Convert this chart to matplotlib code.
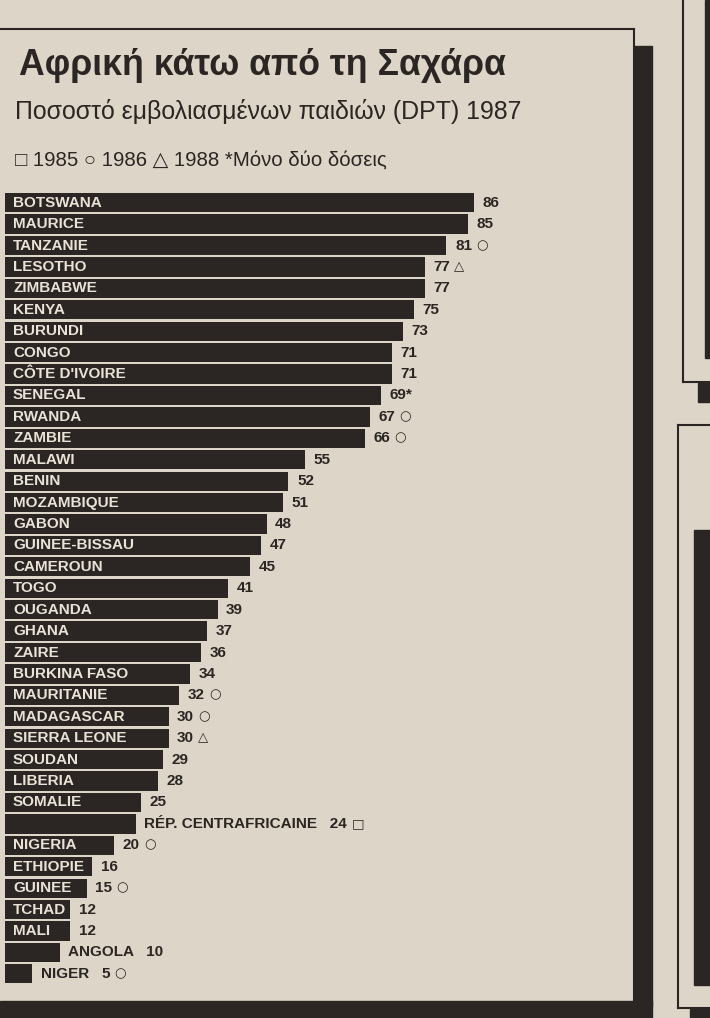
import matplotlib
matplotlib.use("Agg")
import matplotlib.pyplot as plt
from matplotlib import font_manager
from matplotlib.patches import Rectangle

# Data (DPT vaccination, % of children, 1987)
countries = ["BOTSWANA", "MAURICE", "TANZANIE", "LESOTHO", "ZIMBABWE", "KENYA",
             "BURUNDI", "CONGO", "CÔTE D'IVOIRE", "SENEGAL", "RWANDA", "ZAMBIE",
             "MALAWI", "BENIN", "MOZAMBIQUE", "GABON", "GUINEE-BISSAU", "CAMEROUN",
             "TOGO", "OUGANDA", "GHANA", "ZAIRE", "BURKINA FASO", "MAURITANIE",
             "MADAGASCAR", "SIERRA LEONE", "SOUDAN", "LIBERIA", "SOMALIE",
             "RÉP. CENTRAFRICAINE", "NIGERIA", "ETHIOPIE", "GUINEE", "TCHAD",
             "MALI", "ANGOLA", "NIGER"]
values = [86, 85, 81, 77, 77, 75, 73, 71, 71, 69, 67, 66, 55, 52, 51, 48, 47, 45,
          41, 39, 37, 36, 34, 32, 30, 30, 29, 28, 25, 24, 20, 16, 15, 12, 12, 10, 5]
# □ 1985, ○ 1986, △ 1988
year_marks = ["", "", "○", "△", "", "", "", "", "", "", "○", "○",
              "", "", "", "", "", "", "", "", "", "", "",
              "○", "○", "△", "", "", "", "□", "○", "", "○", "", "", "", "○"]
two_doses = ["SENEGAL"]
label_outside = ["RÉP. CENTRAFRICAINE", "ANGOLA", "NIGER"]

title = "Αφρική κάτω από τη Σαχάρα"
subtitle = "Ποσοστό εμβολιασμένων παιδιών (DPT) 1987"
legend_line = "□ 1985 ○ 1986 △ 1988 *Μόνο δύο δόσεις"

paper = "#ddd6c8"
ink = "#2b2523"
light = "#e8e2d7"

names = {f.name for f in font_manager.fontManager.ttflist}
title_font = "Liberation Sans Narrow" if "Liberation Sans Narrow" in names else "Liberation Sans"

W, H = 710, 1018
fig = plt.figure(figsize=(W / 100, H / 100), dpi=100, facecolor=paper)

# pixel-space layer for the page furniture
bg = fig.add_axes([0, 0, 1, 1], zorder=0)
bg.set_xlim(0, W)
bg.set_ylim(H, 0)
bg.axis("off")

# main box with drop shadow
bg.plot([0, 634], [29, 29], color=ink, lw=1.5)
bg.plot([634, 634], [29, 1002], color=ink, lw=1.5)
bg.add_patch(Rectangle((634, 46), 18, 960, color=ink))
bg.add_patch(Rectangle((0, 1001), 652, 17, color=ink))

# edges of the neighbouring boxes on the page
bg.plot([683, 683], [0, 382], color=ink, lw=1.5)
bg.plot([683, 710], [382, 382], color=ink, lw=1.5)
bg.add_patch(Rectangle((698, 383), 12, 19, color=ink))
bg.add_patch(Rectangle((705, 0), 5, 358, color=ink))
bg.plot([678, 710], [425, 425], color=ink, lw=1.5)
bg.plot([678, 678], [425, 1008], color=ink, lw=1.5)
bg.plot([678, 710], [1008, 1008], color=ink, lw=1.5)
bg.add_patch(Rectangle((690, 1009), 20, 9, color=ink))
bg.add_patch(Rectangle((694, 530), 16, 455, color=ink))

renderer = fig.canvas.get_renderer()


def fit_width(t, width_px):
    w = t.get_window_extent(renderer).width
    t.set_fontsize(t.get_fontsize() * width_px / w)


t1 = bg.text(19, 75, title, fontsize=30, fontweight="bold", color=ink,
             family=title_font, va="baseline")
fit_width(t1, 486)
t2 = bg.text(15, 119, subtitle, fontsize=17, color=ink,
             family=["Liberation Sans", "DejaVu Sans"], va="baseline")
fit_width(t2, 510)
t3 = bg.text(15, 166, legend_line, fontsize=14, color=ink,
             family=["Liberation Sans", "DejaVu Sans"], va="baseline")
fit_width(t3, 372)

# bar chart
n = len(countries)
scale = 5.45  # px per percentage point
top, pitch = 192, 21.42
ax = fig.add_axes([5 / W, 1 - (top + n * pitch) / H, 110 * scale / W, n * pitch / H], zorder=1)
ax.set_facecolor("none")
ax.barh(range(n), values, height=0.9, color=ink)
ax.set_xlim(0, 110)
ax.set_ylim(n - 0.5, -0.5)
ax.axis("off")

bold = dict(fontsize=11, fontweight="bold", family="Liberation Sans")
for i, (name, val, mark) in enumerate(zip(countries, values, year_marks)):
    num = f"{val}*" if name in two_doses else f"{val}"
    if name in label_outside:
        txt = f"{name}   {num}"
    else:
        ax.annotate(name, xy=(0, i), xytext=(5.8, 0), textcoords="offset points",
                    ha="left", va="center", color=light, **bold)
        txt = num
    vt = ax.annotate(txt, xy=(val, i), xytext=(6.2, 0), textcoords="offset points",
                     ha="left", va="center", color=ink, **bold)
    if mark:
        ax.annotate(mark, xy=(1, 0), xycoords=vt, xytext=(3, 0.5),
                    textcoords="offset points", ha="left", va="bottom",
                    fontsize=9.5, color=ink, family="DejaVu Sans")

fig.savefig("out.png", dpi=100, facecolor=paper)
